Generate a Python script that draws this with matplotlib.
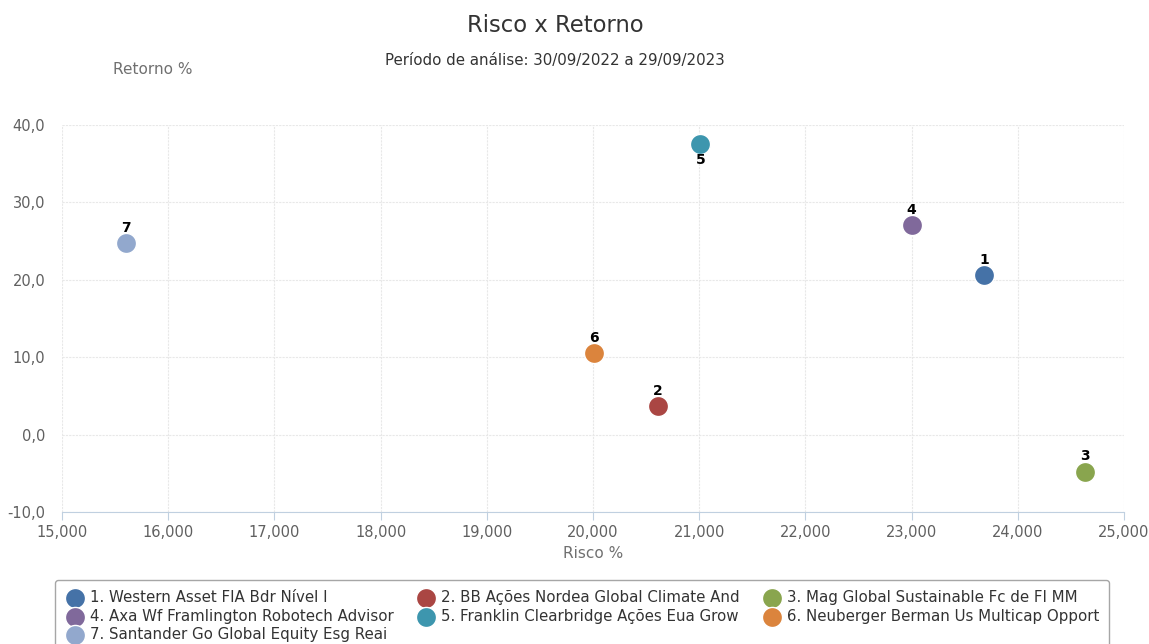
import numpy as np
import matplotlib.pyplot as plt
from matplotlib.ticker import FuncFormatter

# Risco x Retorno
funds = ['1. Western Asset FIA Bdr Nível I',
         '2. BB Ações Nordea Global Climate And',
         '3. Mag Global Sustainable Fc de FI MM',
         '4. Axa Wf Framlington Robotech Advisor',
         '5. Franklin Clearbridge Ações Eua Grow',
         '6. Neuberger Berman Us Multicap Opport',
         '7. Santander Go Global Equity Esg Reai']
labels = ['1', '2', '3', '4', '5', '6', '7']
risco = [23680, 20610, 24630, 23000, 21010, 20010, 15600]
retorno = [20.6, 3.7, -4.8, 27.1, 37.6, 10.5, 24.7]
colors = ['#4572A7', '#AA4643', '#89A54E', '#80699B', '#3D96AE', '#DB843D', '#92A8CD']

fig = plt.figure(figsize=(11.49, 6.44), dpi=100)
ax = fig.add_axes([62/1149, 1-512/644, (1124-62)/1149, (512-125)/644])

handles = []
for i in range(len(funds)):
    h = ax.scatter(risco[i], retorno[i], s=210, c=colors[i], edgecolors='white',
                   linewidths=1, zorder=3, label=funds[i])
    handles.append(h)
    off = -11.5 if labels[i] == '5' else 11
    ax.annotate(labels[i], (risco[i], retorno[i]), xytext=(0, off), textcoords='offset points',
                ha='center', va='center', fontsize=10, fontweight='bold', color='black')

ax.set_xlim(15000, 25000)
ax.set_ylim(-10, 40)
ax.set_xticks(np.arange(15000, 25001, 1000))
ax.set_yticks(np.arange(-10, 41, 10))
ax.xaxis.set_major_formatter(FuncFormatter(lambda v, p: '{:.3f}'.format(v / 1000).replace('.', ',')))
ax.yaxis.set_major_formatter(FuncFormatter(lambda v, p: '{:.1f}'.format(v).replace('.', ',')))

ax.grid(True, color='#e8e8e8', linestyle=(0, (2, 1)), linewidth=0.8, zorder=0)
for s in ['top', 'right', 'left']:
    ax.spines[s].set_visible(False)
ax.spines['bottom'].set_color('#c0d0e0')
ax.tick_params(axis='x', colors='#c0d0e0', length=6, labelcolor='#606060', labelsize=10.5)
ax.tick_params(axis='y', length=0, labelcolor='#606060', labelsize=10.5, pad=12)

fig.text(593/1149, 1-554/644, 'Risco %', ha='center', va='center', fontsize=11, color='#707070')
fig.text(153/1149, 1-69/644, 'Retorno %', ha='center', va='center', fontsize=11, color='#707070')
fig.text(555/1149, 1-25/644, 'Risco x Retorno', ha='center', va='center', fontsize=16.3, color='#333333')
fig.text(555/1149, 1-60/644, 'Período de análise: 30/09/2022 a 29/09/2023', ha='center', va='center',
         fontsize=10.8, color='#333333')

# legend is filled column by column, reorder so it reads row by row
order = [0, 3, 6, 1, 4, 2, 5]
leg = fig.legend(handles=[handles[k] for k in order], loc='upper left',
                 bbox_to_anchor=(55/1149, 1-580/644),
                 ncol=3, fontsize=10.8, frameon=True, handletextpad=0.3, columnspacing=1.45,
                 labelspacing=0.25, borderpad=0.65, handlelength=1.4, borderaxespad=0)
leg.get_frame().set_edgecolor('#909090')
leg.get_frame().set_linewidth(1)
for t in leg.get_texts():
    t.set_color('#333333')

fig.savefig('out.png', dpi=100)
